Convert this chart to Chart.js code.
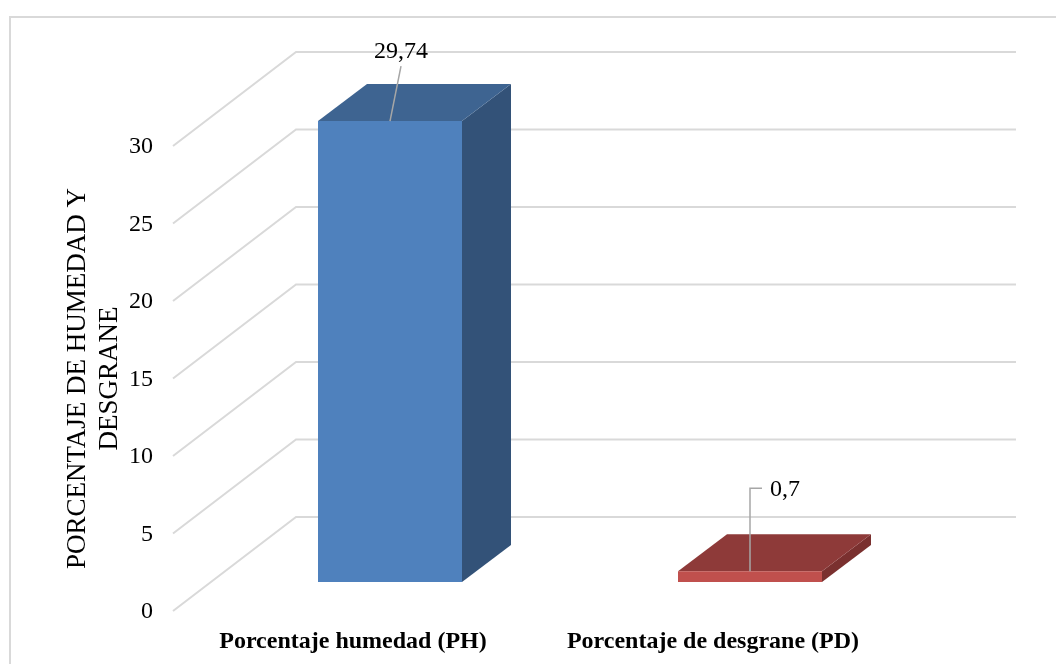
<!DOCTYPE html>
<html lang="es">
<head>
<meta charset="utf-8">
<title>Porcentaje de humedad y desgrane</title>
<script src="https://cdn.jsdelivr.net/npm/chart.js@4"></script>
<style>
    html, body { margin: 0; padding: 0; background: #fff; overflow: hidden; }
    #wrap { position: relative; width: 1056px; height: 664px; overflow: hidden; }
    #frame { position: absolute; left: 9px; top: 16px; width: 1100px; height: 700px;
             border-left: 2px solid #d9d9d9; border-top: 2px solid #d9d9d9; }
</style>
</head>
<body>
<div id="wrap">
    <div id="frame"></div>
    <canvas id="chart" width="1056" height="664"></canvas>
</div>
<script>
const categories = ['Porcentaje humedad (PH)', 'Porcentaje de desgrane (PD)'];
const values = [29.74, 0.7];
const yTicks = [0, 5, 10, 15, 20, 25, 30];
const yTitle = ['PORCENTAJE DE HUMEDAD Y', 'DESGRANE'];

const frontColors = ['#4f81bd', '#c0504d'];
const topColors = ['#3e6491', '#8e3a39'];
const sideColors = ['#335278', '#7a302f'];

const FONT = '"Liberation Serif", "Times New Roman", serif';
const GRID = '#d9d9d9';

// --- 3D look: the wall and the bar depth are just offsets from the scales ---
const WALL_DX = 123, WALL_DY = -94;
const BAR_SHIFT_X = 37, BAR_SHIFT_Y = -29;
const BAR_DX = 49, BAR_DY = -37;

// leader line of each label, relative to the top centre of the front face
const leaders = [
    { points: [[11, -55]], textX: 11, textY: -69 },
    { points: [[0, -83], [12, -83]], textX: 35, textY: -81 }
];

function face(ctx, pts, color) {
    ctx.fillStyle = color;
    ctx.beginPath();
    pts.forEach((p, i) => i ? ctx.lineTo(p[0], p[1]) : ctx.moveTo(p[0], p[1]));
    ctx.closePath();
    ctx.fill();
}

const wall3d = {
    id: 'wall3d',
    beforeDatasetsDraw(chart) {
        const { ctx, scales: { y }, chartArea: a } = chart;
        ctx.save();
        ctx.strokeStyle = GRID;
        ctx.lineWidth = 2;
        yTicks.forEach(t => {
            const py = y.getPixelForValue(t);
            ctx.beginPath();
            ctx.moveTo(a.left, py);
            ctx.lineTo(a.left + WALL_DX, py + WALL_DY);
            ctx.lineTo(a.right + WALL_DX, py + WALL_DY);
            ctx.stroke();
        });
        ctx.restore();

        // the bars stand in the middle of the floor, so everything moves back a bit
        ctx.save();
        ctx.translate(BAR_SHIFT_X, BAR_SHIFT_Y);
        chart.getDatasetMeta(0).data.forEach((bar, i) => {
            const l = bar.x - bar.width / 2, r = bar.x + bar.width / 2;
            face(ctx, [[r, bar.y], [r + BAR_DX, bar.y + BAR_DY], [r + BAR_DX, bar.base + BAR_DY], [r, bar.base]], sideColors[i]);
            face(ctx, [[l, bar.y], [l + BAR_DX, bar.y + BAR_DY], [r + BAR_DX, bar.y + BAR_DY], [r, bar.y]], topColors[i]);
        });
    },
    afterDatasetsDraw(chart) {
        const { ctx } = chart;
        ctx.restore();

        ctx.save();
        ctx.font = '24px ' + FONT;
        ctx.textAlign = 'center';
        ctx.textBaseline = 'middle';
        chart.getDatasetMeta(0).data.forEach((bar, i) => {
            const x0 = bar.x + BAR_SHIFT_X, y0 = bar.y + BAR_SHIFT_Y;
            const lead = leaders[i];
            ctx.strokeStyle = '#a6a6a6';
            ctx.lineWidth = 1.5;
            ctx.beginPath();
            ctx.moveTo(x0, y0);
            lead.points.forEach(p => ctx.lineTo(x0 + p[0], y0 + p[1]));
            ctx.stroke();
            ctx.fillStyle = '#000';
            ctx.fillText(String(values[i]).replace('.', ','), x0 + lead.textX, y0 + lead.textY);
        });
        ctx.restore();
    }
};

new Chart(document.getElementById('chart'), {
    type: 'bar',
    data: {
        labels: categories,
        datasets: [{
            data: values,
            backgroundColor: frontColors,
            barPercentage: 0.4,
            categoryPercentage: 1,
            clip: false
        }]
    },
    options: {
        responsive: false,
        animation: false,
        layout: { padding: { top: 146, right: 163, left: 0, bottom: 0 } },
        plugins: { legend: { display: false }, tooltip: { enabled: false } },
        scales: {
            x: {
                grid: { display: false },
                border: { display: false },
                ticks: { color: '#000', font: { family: FONT, size: 24, weight: 'bold' }, padding: 8, maxRotation: 0 },
                afterFit(s) { s.height = 53; }
            },
            y: {
                min: 0,
                max: 30,
                grid: { display: false, drawTicks: false },
                border: { display: false },
                afterBuildTicks(s) { s.ticks = yTicks.map(v => ({ value: v })); },
                ticks: { color: '#000', font: { family: FONT, size: 24 }, padding: 20, labelOffset: 1 },
                title: {
                    display: true,
                    text: yTitle,
                    color: '#000',
                    font: { family: FONT, size: 27, lineHeight: 1.18 },
                    padding: { top: 62, bottom: 0 }
                },
                afterFit(s) { s.width = 173; }
            }
        }
    },
    plugins: [wall3d]
});
</script>
</body>
</html>
